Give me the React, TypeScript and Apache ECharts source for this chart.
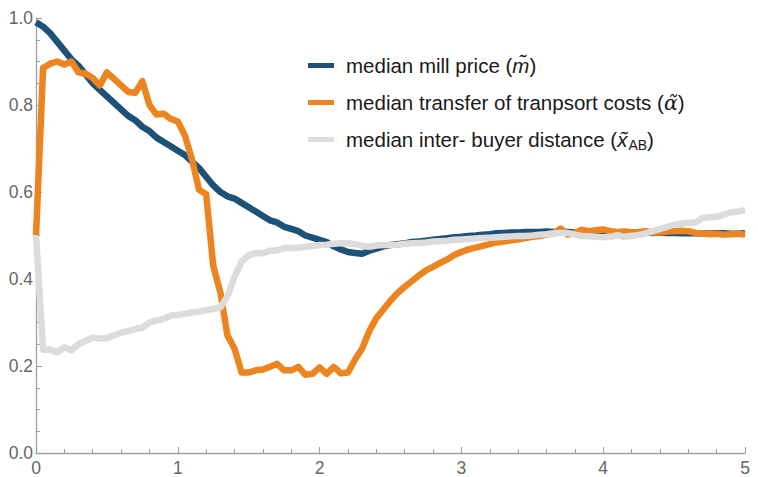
import React, { useEffect, useRef } from "react";
import * as echarts from "echarts";

const xs = [
  0, 0.05, 0.1, 0.15, 0.2, 0.25, 0.3, 0.35, 0.4, 0.45,
  0.5, 0.55, 0.6, 0.65, 0.7, 0.75, 0.8, 0.85, 0.9, 0.95,
  1, 1.05, 1.1, 1.15, 1.2, 1.25, 1.3, 1.35, 1.4, 1.45,
  1.5, 1.55, 1.6, 1.65, 1.7, 1.75, 1.8, 1.85, 1.9, 1.95,
  2, 2.05, 2.1, 2.15, 2.2, 2.25, 2.3, 2.35, 2.4, 2.45,
  2.5, 2.55, 2.6, 2.65, 2.7, 2.75, 2.8, 2.85, 2.9, 2.95,
  3, 3.05, 3.1, 3.15, 3.2, 3.25, 3.3, 3.35, 3.4, 3.45,
  3.5, 3.55, 3.6, 3.65, 3.7, 3.75, 3.8, 3.85, 3.9, 3.95,
  4, 4.05, 4.1, 4.15, 4.2, 4.25, 4.3, 4.35, 4.4, 4.45,
  4.5, 4.55, 4.6, 4.65, 4.7, 4.75, 4.8, 4.85, 4.9, 4.95,
  5,
];

const millPrice = [
  0.99, 0.98, 0.965, 0.945, 0.925, 0.905, 0.89, 0.87, 0.85, 0.835,
  0.82, 0.805, 0.79, 0.775, 0.765, 0.75, 0.74, 0.725, 0.715, 0.705,
  0.695, 0.685, 0.67, 0.655, 0.635, 0.615, 0.6, 0.59, 0.585, 0.575,
  0.565, 0.555, 0.545, 0.535, 0.53, 0.52, 0.515, 0.51, 0.5, 0.495,
  0.49, 0.485, 0.475, 0.468, 0.462, 0.46, 0.458, 0.465, 0.47, 0.475,
  0.478, 0.48, 0.482, 0.485, 0.486, 0.488, 0.49, 0.492, 0.494, 0.496,
  0.497, 0.499, 0.5, 0.502, 0.503, 0.505, 0.506, 0.507, 0.507, 0.508,
  0.508, 0.508, 0.509, 0.508, 0.509, 0.508, 0.507, 0.508, 0.509, 0.508,
  0.507, 0.506, 0.507, 0.508, 0.507, 0.506, 0.507, 0.506, 0.507, 0.506,
  0.506, 0.505, 0.506, 0.505, 0.505, 0.504, 0.505, 0.505, 0.504, 0.504,
  0.505,
];

const transferCosts = [
  0.5, 0.885, 0.895, 0.9, 0.893, 0.9, 0.875, 0.872, 0.862, 0.845,
  0.875, 0.86, 0.845, 0.83, 0.828, 0.855, 0.8, 0.778, 0.78, 0.768,
  0.762, 0.73, 0.675, 0.605, 0.595, 0.43, 0.37, 0.27, 0.24, 0.185,
  0.185, 0.19, 0.192, 0.198, 0.205, 0.19, 0.19, 0.198, 0.18, 0.182,
  0.197, 0.182, 0.198, 0.183, 0.185, 0.215, 0.24, 0.28, 0.31, 0.33,
  0.35, 0.368, 0.382, 0.395, 0.408, 0.42, 0.428, 0.437, 0.445, 0.455,
  0.462, 0.468, 0.472, 0.476, 0.48, 0.484, 0.486, 0.489, 0.491, 0.494,
  0.497, 0.499, 0.502, 0.505, 0.516, 0.502, 0.506, 0.513, 0.51, 0.512,
  0.514, 0.51, 0.508, 0.509, 0.507, 0.508, 0.51, 0.507, 0.507, 0.509,
  0.51, 0.511, 0.51, 0.506, 0.505, 0.503, 0.504, 0.502, 0.503, 0.504,
  0.502,
];

const buyerDistance = [
  0.5, 0.237, 0.238, 0.232, 0.243, 0.236, 0.25, 0.258, 0.265, 0.263,
  0.264, 0.27, 0.277, 0.28, 0.285, 0.288, 0.3, 0.305, 0.308, 0.316,
  0.317, 0.32, 0.323, 0.325, 0.328, 0.331, 0.335, 0.36, 0.405, 0.44,
  0.455, 0.46, 0.459, 0.465, 0.466, 0.471, 0.471, 0.472, 0.474, 0.476,
  0.478, 0.479, 0.481, 0.482, 0.482, 0.48, 0.476, 0.474, 0.477, 0.478,
  0.478, 0.479, 0.481, 0.482, 0.483, 0.484, 0.486, 0.487, 0.488, 0.49,
  0.491, 0.492, 0.493, 0.494, 0.495, 0.496, 0.497, 0.498, 0.499, 0.499,
  0.5, 0.502, 0.503, 0.505, 0.506, 0.506, 0.502, 0.499, 0.498, 0.497,
  0.496, 0.497, 0.501, 0.497, 0.499, 0.501, 0.505, 0.51, 0.515, 0.52,
  0.525, 0.527, 0.529, 0.53, 0.54, 0.542, 0.543, 0.548, 0.553, 0.555,
  0.558,
];

const yTicks = ["0.0", "0.2", "0.4", "0.6", "0.8", "1.0"];
const xTicks = ["0", "1", "2", "3", "4", "5"];

const seriesNames = [
  "median mill price",
  "median transfer of tranpsort costs",
  "median inter- buyer distance",
];
const seriesColors = ["#1d5178", "#ec8420", "#dcdcdc"];

const pairs = (ys: number[]) => xs.map((x, i) => [x, ys[i]]);

export default function App() {
  const ref = useRef<HTMLDivElement>(null);
  useEffect(() => {
    if (!ref.current) return;
    const chart = echarts.init(ref.current, null, { renderer: "svg" });
    const axisColor = "#a0a0a0";
    const labelStyle = {
      color: "#666666",
      fontSize: 17.5,
      fontFamily: "Liberation Sans",
    };
    const fs = 20.5;
    const lh = 24;
    chart.setOption({
      animation: false,
      backgroundColor: "#ffffff",
      grid: { left: 36, right: 13, top: 18, bottom: 24, containLabel: false },
      xAxis: {
        type: "value",
        min: 0,
        max: 5,
        interval: 1,
        splitLine: { show: false },
        axisLine: { show: true, onZero: false, lineStyle: { color: axisColor, width: 1.3 } },
        axisTick: { show: true, inside: true, length: 6, lineStyle: { color: axisColor, width: 1 } },
        minorTick: { show: true, splitNumber: 5, length: 4, lineStyle: { color: axisColor, width: 1 } },
        axisLabel: {
          ...labelStyle,
          margin: 6,
          formatter: (v: number) => xTicks[Math.round(v)] ?? "",
        },
      },
      yAxis: {
        type: "value",
        min: 0,
        max: 1,
        interval: 0.2,
        splitLine: { show: false },
        axisLine: { show: true, onZero: false, lineStyle: { color: axisColor, width: 1.3 } },
        axisTick: { show: true, inside: true, length: 6, lineStyle: { color: axisColor, width: 1 } },
        minorTick: { show: true, splitNumber: 4, length: 4, lineStyle: { color: axisColor, width: 1 } },
        axisLabel: {
          ...labelStyle,
          margin: 3,
          formatter: (v: number) => yTicks[Math.round(v * 5)] ?? "",
        },
      },
      legend: {
        orient: "vertical",
        left: 303,
        top: 50,
        itemWidth: 26,
        itemHeight: 5,
        itemGap: 16,
        icon: "rect",
        data: seriesNames,
        formatter: (name: string) => {
          if (name === seriesNames[0]) return "{f|" + name + " (}{i|m\u0303}{t|)}";
          if (name === seriesNames[1]) return "{f|" + name + " (}{g|\u03b1\u0303}{t|)}";
          return "{f|" + name + " (}{i|x\u0303}{s|AB}{t|)}";
        },
        textStyle: {
          fontSize: fs,
          color: "#1a1a1a",
          fontFamily: "Liberation Sans",
          rich: {
            f: { fontSize: fs, color: "#1a1a1a", fontFamily: "Liberation Sans", lineHeight: lh, padding: [0, 0, 0, 7] },
            t: { fontSize: fs, color: "#1a1a1a", fontFamily: "Liberation Sans", lineHeight: lh },
            i: { fontSize: fs, color: "#1a1a1a", fontFamily: "Liberation Sans", fontStyle: "italic", lineHeight: lh },
            g: { fontSize: fs, color: "#1a1a1a", fontFamily: "DejaVu Serif", fontStyle: "italic", lineHeight: lh },
            s: { fontSize: 14, color: "#1a1a1a", fontFamily: "Liberation Sans", lineHeight: lh, verticalAlign: "bottom", padding: [0, 0, 0, 1] },
          },
        },
      },
      series: [
        {
          name: seriesNames[0],
          type: "line",
          data: pairs(millPrice),
          showSymbol: false,
          symbol: "none",
          color: seriesColors[0],
          lineStyle: { width: 6.5, color: seriesColors[0], join: "round" },
          z: 2,
        },
        {
          name: seriesNames[1],
          type: "line",
          data: pairs(transferCosts),
          showSymbol: false,
          symbol: "none",
          color: seriesColors[1],
          lineStyle: { width: 6.5, color: seriesColors[1], join: "round" },
          z: 3,
        },
        {
          name: seriesNames[2],
          type: "line",
          data: pairs(buyerDistance),
          showSymbol: false,
          symbol: "none",
          color: seriesColors[2],
          lineStyle: { width: 6.5, color: seriesColors[2], join: "round" },
          z: 4,
        },
      ],
    });
    return () => chart.dispose();
  }, []);
  return (
    <div
      ref={ref}
      style={{ position: "fixed", left: 0, top: 0, width: 758, height: 477, background: "#fff" }}
    />
  );
}
